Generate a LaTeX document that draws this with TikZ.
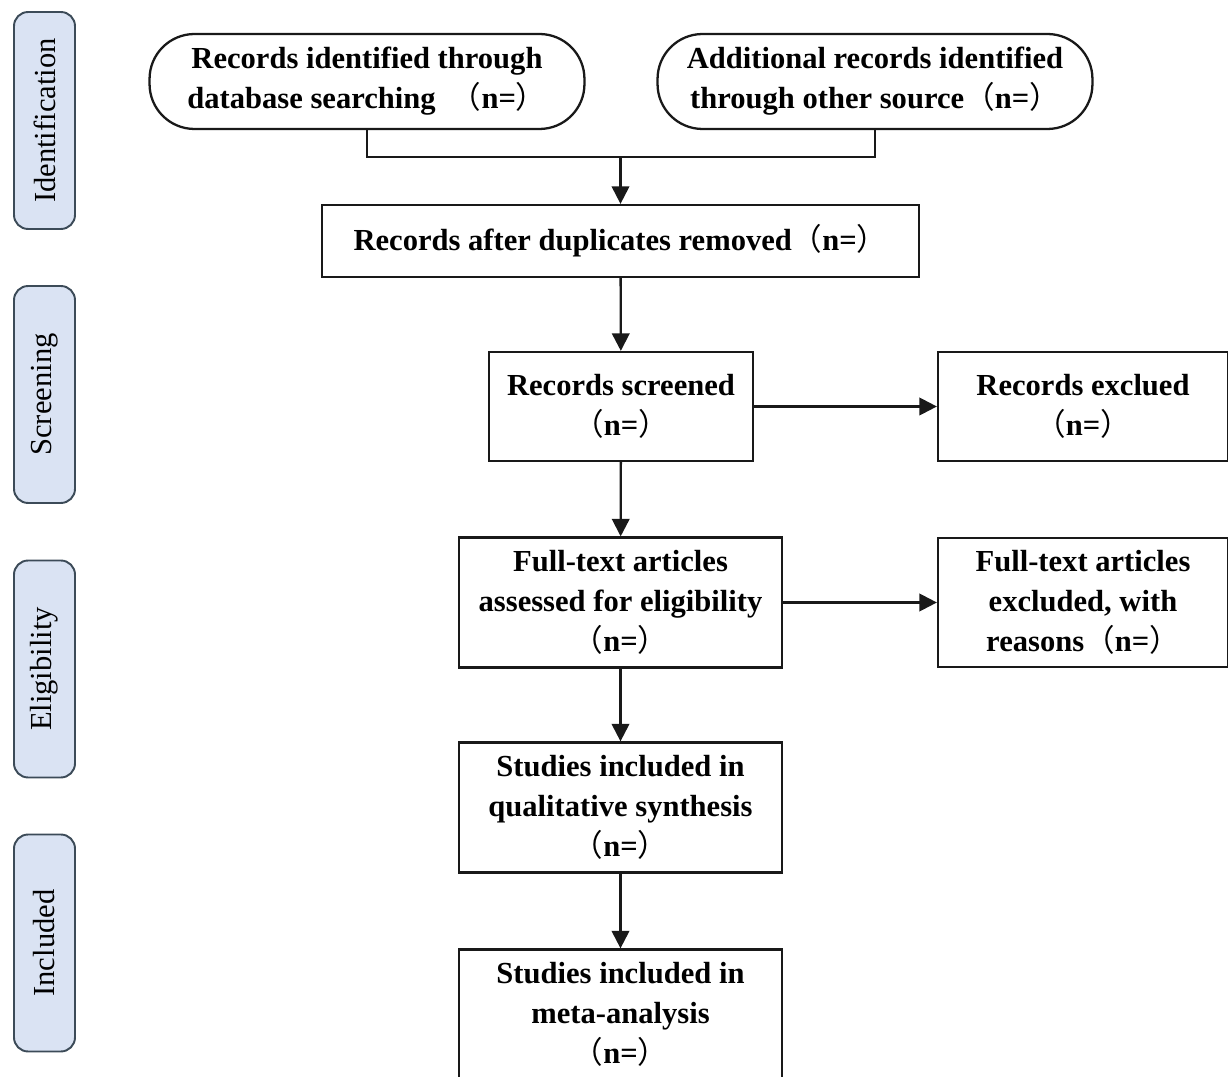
\documentclass[tikz,border=0pt]{standalone}
\usepackage{fontspec}
\setmainfont{Liberation Serif}
\newfontfamily\cjk{Noto Sans CJK SC}
\usetikzlibrary{arrows.meta, positioning}

\definecolor{stagefill}{RGB}{218,227,243}
\definecolor{stageline}{RGB}{60,75,88}
% full-width brackets round n=
\newcommand{\nval}{{\cjk\mdseries （}n={\cjk\mdseries ）}}

\begin{document}
\begin{tikzpicture}[
		x=0.02cm, y=-0.02cm,
		>={Triangle[length=10pt, width=10pt]},
		% Stage labels down the left side
		stage/.style={draw=stageline, fill=stagefill, line width=1.1pt, rounded corners=8pt,
			rotate=90, minimum width=4.34cm, minimum height=1.22cm, inner sep=0pt,
			font=\fontsize{17.4}{20}\selectfont},
		% Flow boxes
		box/.style={draw=black!90, line width=1.3pt, align=center, inner sep=2pt,
			font=\fontsize{17.4}{22.8}\selectfont\bfseries},
		srcbox/.style={box, rounded corners=0.9cm, minimum width=8.7cm, minimum height=1.9cm},
		midbox/.style={box, minimum width=6.46cm, minimum height=2.6cm},
		sidebox/.style={box, minimum width=5.8cm},
		flow/.style={->, line width=1.3pt, draw=black!90}
		]
		
		\useasboundingbox[fill=white] (0,0) rectangle (1228,1077);
		
		% ==============================================================================
		% Stages
		% ==============================================================================
		\node[stage] (idf) at (44.5,120.5) {Identification};
		\node[stage] (scr) at (44.5,394.5) {Screening};
		\node[stage] (elg) at (44.5,669) {Eligibility};
		\node[stage] (inc) at (44.5,943) {Included};
		
		% ==============================================================================
		% Identification
		% ==============================================================================
		\node[srcbox] (db) at (367,81.5) {Records identified through\\database searching \ \nval};
		\node[srcbox] (other) at (875,81.5) {Additional records identified\\through other source\nval};
		\coordinate (join) at (620.5,157);
		\node[box, minimum width=11.94cm, minimum height=1.44cm] (dedup) at (620.5,241) {Records after duplicates removed\nval};
		
		% ==============================================================================
		% Screening and eligibility
		% ==============================================================================
		\node[box, minimum width=5.28cm, minimum height=2.18cm] (screened) at (621,406.5) {Records screened\\\nval};
		\node[sidebox, minimum height=2.18cm] (excl) at (1083,406.5) {Records exclued\\\nval};
		\node[midbox] (fulltext) at (620.5,602.5) {Full-text articles\\assessed for eligibility\\\nval};
		\node[sidebox, minimum height=2.58cm] (ftexcl) at (1083,602.5) {Full-text articles\\excluded, with\\reasons\nval};
		
		% ==============================================================================
		% Included
		% ==============================================================================
		\node[midbox] (qual) at (620.5,807.5) {Studies included in\\qualitative synthesis\\\nval};
		\node[midbox] (meta) at (620.5,1014.5) {Studies included in\\meta-analysis\\\nval};
		
		% Connectors
		\draw[line width=1.3pt, draw=black!90] (db.south) |- (join) -| (other.south);
		\draw[flow] (join) -- (dedup.north);
		\draw[flow] (dedup) -- (screened);
		\draw[flow] (screened) -- (excl);
		\draw[flow] (screened) -- (fulltext);
		\draw[flow] (fulltext) -- (ftexcl);
		\draw[flow] (fulltext) -- (qual);
		\draw[flow] (qual) -- (meta);
	\end{tikzpicture}
\end{document}
